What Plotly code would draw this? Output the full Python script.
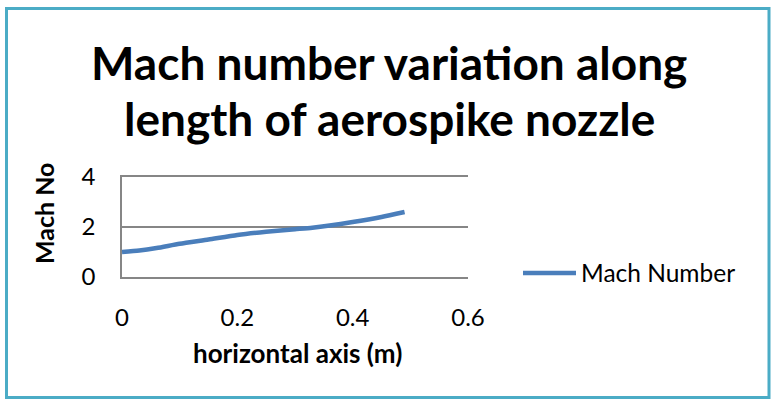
import plotly.graph_objects as go

x_m = [0.0, 0.03, 0.06, 0.1, 0.15, 0.2, 0.25, 0.3, 0.33, 0.4, 0.45, 0.49]
mach = [1.0, 1.06, 1.16, 1.33, 1.5, 1.68, 1.81, 1.91, 1.97, 2.2, 2.4, 2.6]
series_name = "Mach Number"
title_lines = ["Mach number variation along", "length of aerospike nozzle"]
x_title = "horizontal axis (m)"
y_title = "Mach No"
x_ticks = [0, 0.2, 0.4, 0.6]
y_ticks = [0, 2, 4]

FONT = "Lato"
L, R, T, B = 122, 304, 177, 123
W, H = 772, 400
pw = W - L - R
ph = H - T - B

def px(xp):
    return (xp - L) / pw

def py(yp):
    return (H - B - yp) / ph

fig = go.Figure()
fig.add_trace(go.Scatter(x=x_m, y=mach, mode="lines", name=series_name,
                         line=dict(color="#4A7EBB", width=4.5, shape="spline", smoothing=0.6)))

fig.update_layout(
    width=W, height=H,
    margin=dict(l=L, r=R, t=T, b=B),
    paper_bgcolor="white", plot_bgcolor="white",
    font=dict(family=FONT, size=24, color="black"),
    showlegend=True,
    legend=dict(x=px(518), y=py(273), xanchor="left", yanchor="middle",
                font=dict(family=FONT, size=24.5, color="black"),
                bgcolor="rgba(0,0,0,0)", itemwidth=53),
    xaxis=dict(range=[0, 0.6], tickvals=x_ticks, ticktext=[str(v) for v in x_ticks],
               showgrid=False, zeroline=False, showline=True, mirror=True,
               linecolor="#868686", linewidth=1.5,
               ticks="", ticklabelstandoff=18, tickfont=dict(size=24)),
    yaxis=dict(range=[0, 4], tickvals=y_ticks, showgrid=True, gridcolor="#868686", gridwidth=1.5,
               zeroline=False, showline=True, linecolor="#868686", linewidth=1.5,
               ticks="", ticklabelstandoff=20, tickfont=dict(size=24)),
    shapes=[dict(type="rect", xref="paper", yref="paper",
                 x0=px(6.5), x1=px(769), y0=py(397.5), y1=py(8.5),
                 line=dict(color="#4BACC6", width=3), fillcolor="rgba(0,0,0,0)", layer="below")],
    annotations=[
        dict(text="<b>%s</b>" % title_lines[0], x=px(389), y=py(62), xref="paper", yref="paper",
             showarrow=False, font=dict(size=46, family=FONT), xanchor="center", yanchor="middle"),
        dict(text="<b>%s</b>" % title_lines[1], x=px(389), y=py(118), xref="paper", yref="paper",
             showarrow=False, font=dict(size=46, family=FONT), xanchor="center", yanchor="middle"),
        dict(text="<b>%s</b>" % x_title, x=px(297), y=py(353), xref="paper", yref="paper",
             showarrow=False, font=dict(size=26, family=FONT), xanchor="center", yanchor="middle"),
        dict(text="<b>%s</b>" % y_title, x=px(44), y=py(214), xref="paper", yref="paper",
             showarrow=False, textangle=-90, font=dict(size=25, family=FONT),
             xanchor="center", yanchor="middle"),
    ],
)

fig.write_html("out.html", config={"displayModeBar": False},
               post_script="document.body.style.margin='0';document.body.style.overflow='hidden';")
